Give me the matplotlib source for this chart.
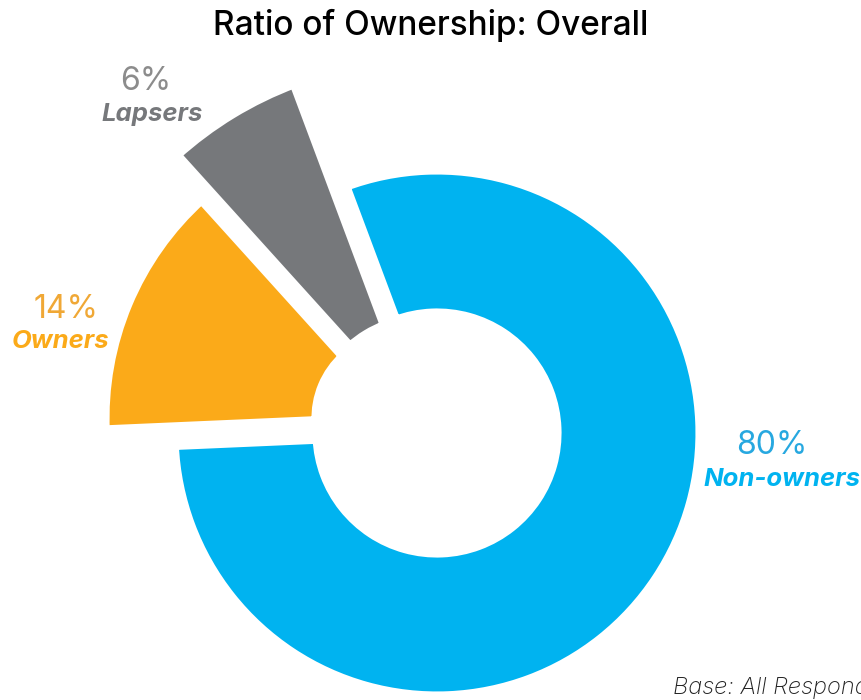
import numpy as np
import matplotlib
matplotlib.use('Agg')
import matplotlib.pyplot as plt
from matplotlib.patches import Wedge

plt.rcParams['font.family'] = ['Inter', 'DejaVu Sans']

# ownership split, in percent
categories = ['Non-owners', 'Owners', 'Lapsers']
shares = [80, 14, 6]
pct_labels = ['80%', '14%', '6%']

# ring styling per segment
colors = ['#00b3f0', '#fbaa19', '#76787b']
pct_colors = ['#27a8e0', '#f0a836', '#8c8c8c']
outer_r = [264, 296, 372]
inner_r = [119, 83, 112]
shift = [(0, 0), (-37, 15), (-12, 2)]   # pulled-out slices
center = (437, 267)
start = 110.5

fig = plt.figure(figsize=(8.61, 7), dpi=100)
ax = fig.add_axes([0, 0, 1, 1])
ax.set_xlim(0, 861)
ax.set_ylim(0, 700)
ax.axis('off')

# slices run clockwise from the start angle
theta = start
for val, col, ro, ri, (dx, dy) in zip(shares, colors, outer_r, inner_r, shift):
    span = val / sum(shares) * 360
    w = Wedge((center[0] + dx, center[1] + dy), ro, theta - span, theta, width=ro - ri,
              facecolor=col, edgecolor='white', linewidth=8)
    ax.add_patch(w)
    theta -= span

fig.text(0.5, 1 - 25 / 700, 'Ratio of Ownership: Overall', ha='center', va='center',
         fontsize=24, fontweight='medium', color='black')

# percent + name for each slice
pct_pos = [(772, 255), (66, 390), (146, 618)]
name_pos = [(782, 221), (60, 359), (152, 586)]
for (px, py), (nx, ny), cat, pct, pc, col in zip(pct_pos, name_pos, categories,
                                                 pct_labels, pct_colors, colors):
    ax.text(px, py, pct, ha='center', va='center', fontsize=23, color=pc)
    ax.text(nx, ny, cat, ha='center', va='center', fontsize=18.5, fontweight='bold',
            fontstyle='italic', color=col)

ax.text(673, 12, 'Base: All Respondents', ha='left', va='center', fontsize=17,
        fontstyle='italic', fontweight='light', color='#222222')

fig.savefig('out.png', dpi=100)
